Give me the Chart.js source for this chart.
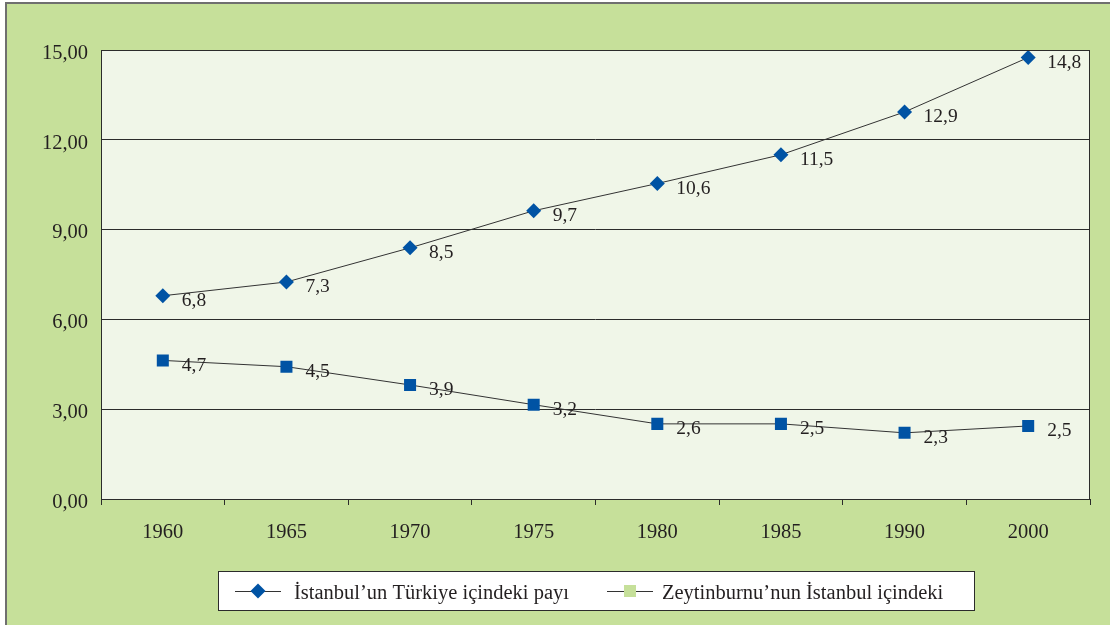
<!DOCTYPE html>
<html>
<head>
<meta charset="utf-8">
<script src="https://cdn.jsdelivr.net/npm/chart.js@4"></script>
<style>
  html, body { margin: 0; padding: 0; background: #fff; }
  #wrap { width: 1110px; height: 625px; position: relative; }
</style>
</head>
<body>
<div id="wrap"><canvas id="chart" width="1110" height="625"></canvas></div>
<script>
// Years on the x axis
const years = ["1960", "1965", "1970", "1975", "1980", "1985", "1990", "2000"];

// İstanbul's share within Türkiye (plotted values + printed labels)
const istanbulShare  = [6.79, 7.25, 8.39, 9.63, 10.54, 11.5, 12.93, 14.75];
const istanbulLabels = ["6,8", "7,3", "8,5", "9,7", "10,6", "11,5", "12,9", "14,8"];

// Zeytinburnu's share within İstanbul
const zeytinShare  = [4.63, 4.42, 3.81, 3.15, 2.51, 2.51, 2.21, 2.44];
const zeytinLabels = ["4,7", "4,5", "3,9", "3,2", "2,6", "2,5", "2,3", "2,5"];

const seriesNames = ["İstanbul’un Türkiye içindeki payı", "Zeytinburnu’nun İstanbul içindeki"];
const yTicks = [0, 3, 6, 9, 12, 15];

const FONT = "'Liberation Serif', 'Times New Roman', serif";
const TEXT = "#231f20";
const BLUE = "#0053a4";
const PAGE_GREEN = "#c6e09a";
const PLOT_BG = "#f0f6e8";

// Page background, frame line and plot area fill
const backdrop = {
  id: "backdrop",
  beforeDraw(chart) {
    const { ctx, chartArea: a } = chart;
    ctx.save();
    ctx.fillStyle = "#ffffff";
    ctx.fillRect(0, 0, chart.width, chart.height);
    ctx.fillStyle = PAGE_GREEN;
    ctx.fillRect(6, 3, chart.width - 6, chart.height - 3);
    ctx.strokeStyle = "#6f6f6f";
    ctx.lineWidth = 2;
    ctx.beginPath();
    ctx.moveTo(6, chart.height);
    ctx.lineTo(6, 3);
    ctx.lineTo(chart.width, 3);
    ctx.stroke();
    ctx.fillStyle = PLOT_BG;
    ctx.fillRect(a.left, a.top, a.right - a.left, a.bottom - a.top);
    ctx.restore();
  },
  afterDraw(chart) {
    const { ctx, chartArea: a } = chart;
    ctx.save();
    ctx.strokeStyle = "#2b2b2b";
    ctx.lineWidth = 1;
    ctx.strokeRect(Math.round(a.left) + 0.5, Math.round(a.top) + 0.5,
      Math.round(a.right - a.left) - 1, Math.round(a.bottom - a.top));
    ctx.restore();
  }
};

// Value labels to the right of every marker
const pointLabels = {
  id: "pointLabels",
  afterDatasetsDraw(chart) {
    const { ctx } = chart;
    const texts = [istanbulLabels, zeytinLabels];
    ctx.save();
    ctx.font = "19.5px " + FONT;
    ctx.fillStyle = TEXT;
    ctx.textAlign = "left";
    ctx.textBaseline = "middle";
    chart.data.datasets.forEach((ds, i) => {
      chart.getDatasetMeta(i).data.forEach((pt, j) => {
        ctx.fillText(texts[i][j], pt.x + 19, pt.y + 5);
      });
    });
    ctx.restore();
  }
};

// Boxed legend at the bottom: line + marker + name
const boxLegend = {
  id: "boxLegend",
  afterDraw(chart) {
    const { ctx } = chart;
    ctx.save();
    ctx.fillStyle = "#ffffff";
    ctx.fillRect(218, 571, 756, 39);
    ctx.strokeStyle = "#2b2b2b";
    ctx.lineWidth = 1;
    ctx.strokeRect(218.5, 571.5, 756, 39);

    const cy = 591;
    const items = [
      { x: 235, marker: "diamond", color: BLUE, text: seriesNames[0], tx: 294 },
      { x: 607, marker: "square", color: PAGE_GREEN, text: seriesNames[1], tx: 662 }
    ];
    items.forEach(it => {
      ctx.strokeStyle = "#333";
      ctx.beginPath();
      ctx.moveTo(it.x, cy + 0.5);
      ctx.lineTo(it.x + 46, cy + 0.5);
      ctx.stroke();
      const mx = it.x + 23;
      ctx.fillStyle = it.color;
      ctx.beginPath();
      if (it.marker === "diamond") {
        ctx.moveTo(mx - 7.5, cy);
        ctx.lineTo(mx, cy - 7.5);
        ctx.lineTo(mx + 7.5, cy);
        ctx.lineTo(mx, cy + 7.5);
        ctx.closePath();
      } else {
        ctx.rect(mx - 6, cy - 6, 12, 12);
      }
      ctx.fill();
      ctx.fillStyle = TEXT;
      ctx.font = "20.5px " + FONT;
      ctx.textBaseline = "middle";
      ctx.fillText(it.text, it.tx, cy + 3);
    });
    ctx.restore();
  }
};

new Chart(document.getElementById("chart"), {
  type: "line",
  data: {
    labels: years,
    datasets: [
      {
        label: seriesNames[0],
        data: istanbulShare,
        borderColor: "#333333",
        borderWidth: 1,
        pointStyle: "rectRot",
        pointRadius: 7.5,
        pointBackgroundColor: BLUE,
        pointBorderColor: BLUE,
        pointBorderWidth: 0,
        tension: 0
      },
      {
        label: seriesNames[1],
        data: zeytinShare,
        borderColor: "#333333",
        borderWidth: 1,
        pointStyle: "rect",
        pointRadius: 8.5,
        pointBackgroundColor: BLUE,
        pointBorderColor: BLUE,
        pointBorderWidth: 0,
        tension: 0
      }
    ]
  },
  options: {
    responsive: false,
    animation: false,
    layout: { padding: { top: 50, right: 20, left: 0, bottom: 0 } },
    plugins: {
      legend: { display: false },
      tooltip: { enabled: false }
    },
    scales: {
      x: {
        offset: true,
        grid: { offset: true, drawOnChartArea: false, drawTicks: true, tickLength: 6, color: "#2b2b2b" },
        border: { display: false },
        ticks: { color: TEXT, font: { family: FONT, size: 20.5 }, padding: 15, maxRotation: 0 },
        afterFit: (s) => { s.height = 126; }
      },
      y: {
        min: 0,
        max: 15,
        afterBuildTicks: (s) => { s.ticks = yTicks.map(v => ({ value: v })); },
        grid: { color: "#2b2b2b", drawTicks: false },
        border: { display: false },
        ticks: {
          color: TEXT,
          // empty first line with a short line height nudges the label a few px down, as in the print
          font: { family: FONT, size: 20.5, lineHeight: "7px" },
          padding: 13,
          callback: v => ["", v.toFixed(2).replace(".", ",")]
        },
        afterFit: (s) => { s.width = 101; }
      }
    }
  },
  plugins: [backdrop, pointLabels, boxLegend]
});
</script>
</body>
</html>
